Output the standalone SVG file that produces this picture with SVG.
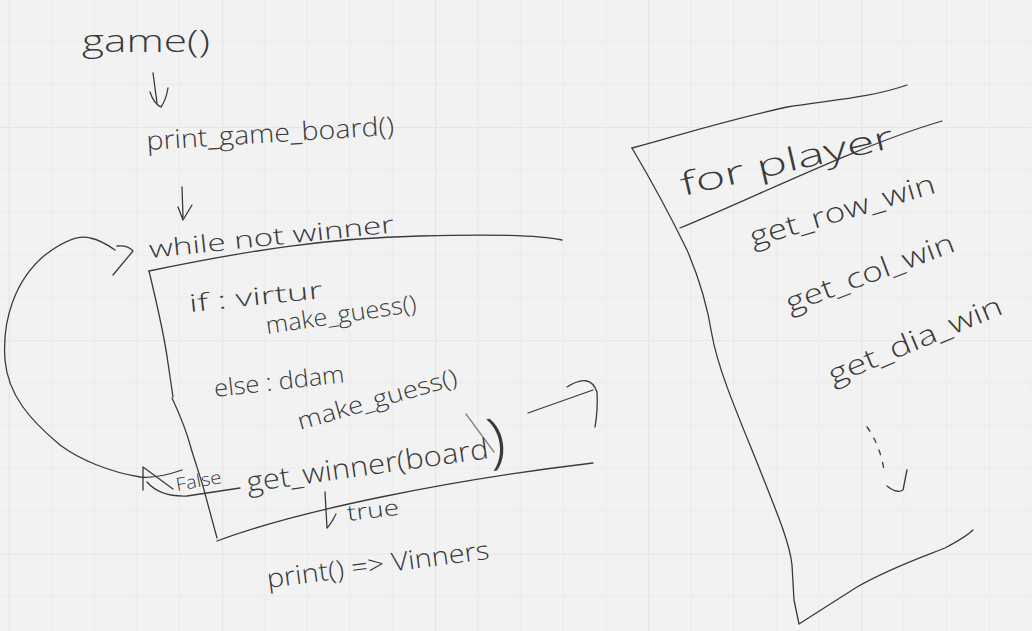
<svg xmlns="http://www.w3.org/2000/svg" width="1032" height="631" viewBox="0 0 1032 631">
<defs>
<pattern id="grid" width="213.2" height="213.2" patternUnits="userSpaceOnUse" x="8.6" y="127">
<rect width="213.2" height="213.2" fill="#f2f2f2"/>
<path d="M42.64 0V213.2M85.28 0V213.2M127.92 0V213.2M170.56 0V213.2M0 42.64H213.2M0 85.28H213.2M0 127.92H213.2M0 170.56H213.2" stroke="#ebebeb" stroke-width="1" fill="none"/>
<path d="M0.5 0V213.2M0 0.5H213.2" stroke="#e5e5e5" stroke-width="1.2" fill="none"/>
</pattern>
<style>
.ink{fill:none;stroke:#3a3a3a;stroke-width:1.3;stroke-linecap:round;stroke-linejoin:round}
.t{font-family:"Open Sans","Liberation Sans",sans-serif;font-weight:300;fill:#3a3a3a}
</style>
</defs>
<rect width="1032" height="631" fill="url(#grid)"/>

<g id="game">
<text class="t" x="82" y="52" font-size="32" textLength="128" lengthAdjust="spacingAndGlyphs">game()</text>
</g>

<g id="print-game-board">
<text class="t" x="147" y="150" font-size="26" textLength="248" lengthAdjust="spacingAndGlyphs" transform="rotate(-3.5 147 150)">print_game_board()</text>
</g>

<g id="while-loop">
<path class="ink" d="M149,271 C 250,250 330,238 420,236 C 490,234 540,235 562,240"/>
<path class="ink" d="M149,271 C 156,300 165,340 168,363 L 173,397"/>
<path class="ink" d="M172,398 C 180,415 187,433 191,448 C 195,462 200,475 204,490 L 217,538"/>
<path class="ink" d="M217,541 C 300,510 450,480 593,463"/>
<text class="t" x="150" y="258" font-size="24" textLength="246" lengthAdjust="spacingAndGlyphs" transform="rotate(-6 150 258)">while not winner</text>
<text class="t" x="190" y="312" font-size="24" textLength="134" lengthAdjust="spacingAndGlyphs" transform="rotate(-6 190 312)">if : virtur</text>
<text class="t" x="267" y="334" font-size="24" textLength="152" lengthAdjust="spacingAndGlyphs" transform="rotate(-8.5 267 334)">make_guess()</text>
<text class="t" x="215" y="397" font-size="24" textLength="131" lengthAdjust="spacingAndGlyphs" transform="rotate(-6.5 215 397)">else : ddam</text>
<text class="t" x="300" y="430" font-size="24" textLength="165" lengthAdjust="spacingAndGlyphs" transform="rotate(-16 300 430)">make_guess()</text>
<text class="t" x="177" y="491" font-size="18" textLength="46" lengthAdjust="spacingAndGlyphs" transform="rotate(-10 177 491)">False</text>
<text class="t" x="248" y="492" font-size="28" textLength="262" lengthAdjust="spacingAndGlyphs" transform="rotate(-8 248 492)">get_winner(board<tspan font-size="60" dy="4">)</tspan></text>
<path class="ink" d="M466,414 L494,452" stroke-opacity="0.6"/>
<text class="t" x="348" y="521" font-size="22" textLength="52" lengthAdjust="spacingAndGlyphs" transform="rotate(-7 348 521)">true</text>
</g>

<g id="print-winners">
<text class="t" x="268" y="588" font-size="26" textLength="224" lengthAdjust="spacingAndGlyphs" transform="rotate(-7.5 268 588)">print() =&gt; Vinners</text>
</g>

<g id="win-checks">
<path class="ink" d="M632,148 C 680,135 720,122 787,107 C 830,100 870,98 907,85"/>
<path class="ink" d="M632,148 C 645,170 670,215 687,250 C 700,280 708,310 712,335 C 718,370 740,420 760,470 C 780,520 790,545 792,565 L 794,600 L 799,624 L 857,587 C 890,568 925,556 945,548 C 960,540 968,535 973,530"/>
<path class="ink" d="M680,228 C 760,195 860,145 942,121"/>
<text class="t" x="683" y="196" font-size="32" textLength="218" lengthAdjust="spacingAndGlyphs" transform="rotate(-13 683 196)">for player</text>
<text class="t" x="753" y="247" font-size="28" textLength="192" lengthAdjust="spacingAndGlyphs" transform="rotate(-16.5 753 247)">get_row_win</text>
<text class="t" x="790" y="313" font-size="28" textLength="178" lengthAdjust="spacingAndGlyphs" transform="rotate(-20.5 790 313)">get_col_win</text>
<text class="t" x="833" y="385" font-size="28" textLength="186" lengthAdjust="spacingAndGlyphs" transform="rotate(-22.7 833 385)">get_dia_win</text>
</g>

<g id="connectors">
<path class="ink" d="M153,73 L157,103 M150,92 Q 154,104 161,107 Q 166,100 168,88"/>
<path class="ink" d="M182,187 L183,217 M178,207 L183,220 L192,205"/>
<path class="ink" d="M182,470 C 165,476 150,478 140,477 C 110,472 80,460 60,445 C 30,420 8,395 5,360 C 2,320 15,280 45,255 C 65,240 80,235 90,238 C 100,240 108,245 115,250"/>
<path class="ink" d="M117,246 Q 128,245 133,251 L 113,275"/>
<path class="ink" d="M143,490 L143,467 L173,489"/>
<path class="ink" d="M147,482 Q 160,497 187,496 L 240,488"/>
<path class="ink" d="M325,492 L327,528 Q 331,524 336,514"/>
<path class="ink" d="M528,413 L593,390 M567,387 Q 590,372 597,392 Q 598,410 595,427"/>
<path class="ink" d="M867,427 Q 880,445 884,470" stroke-dasharray="5 8"/>
<path class="ink" d="M887,486 Q 897,494 903,490 L 907,470"/>
</g>
</svg>
